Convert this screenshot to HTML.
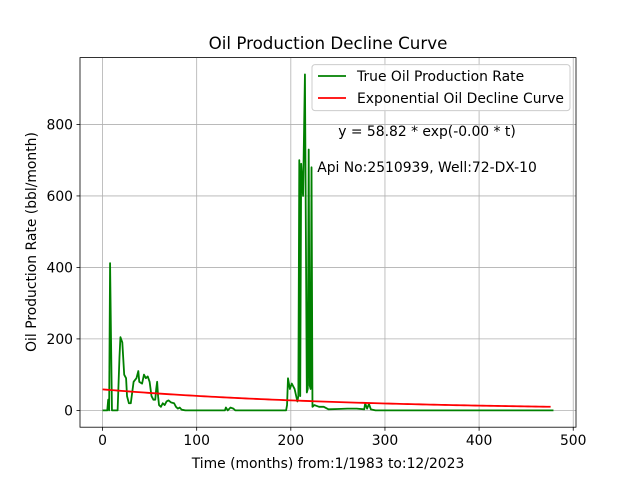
<!DOCTYPE html>
<html><head><meta charset="utf-8"><style>
body{margin:0;background:#fff}
svg text{font-family:"DejaVu Sans","Liberation Sans",sans-serif;fill:#000}
</style></head><body>
<svg width="640" height="480" viewBox="0 0 640 480">
<g id="grid"></g>
<g id="series"></g>
<rect x="80" y="57.6" width="496" height="369.6" fill="none" stroke="#000" stroke-width="0.8"/>
<g id="axes"></g>
<text x="328" y="49" font-size="16.7" text-anchor="middle">Oil Production Decline Curve</text>
<text x="328" y="468" font-size="13.9" text-anchor="middle">Time (months) from:1/1983 to:12/2023</text>
<text transform="translate(36,242) rotate(-90)" font-size="13.9" text-anchor="middle">Oil Production Rate (bbl/month)</text>
<text x="427" y="136" font-size="13.9" text-anchor="middle">y = 58.82 * exp(-0.00 * t)</text>
<text x="427" y="172" font-size="13.9" text-anchor="middle">Api No:2510939, Well:72-DX-10</text>
<g>
<rect x="312" y="64.6" width="258" height="46" rx="3" fill="#fff" fill-opacity="0.8" stroke="#ccc" stroke-width="1"/>
<line x1="318" y1="76" x2="346" y2="76" stroke="green" stroke-width="1.8"/>
<text x="357" y="81" font-size="13.9">True Oil Production Rate</text>
<line x1="318" y1="98" x2="346" y2="98" stroke="red" stroke-width="1.8"/>
<text x="357" y="103" font-size="13.9">Exponential Oil Decline Curve</text>
</g>
</svg>
<script>
const months=[0,5,6,7,8,9,10,16,18,19,21,23,25,26,28,30,33,36,38,39,42,44,46,48,50,52,54,56,57,58,59,60,62,64,66,68,70,73,76,78,80,82,84,88,130,131,133,136,139,141,195,196,197,199,201,204,207,208,209,210,211,213,215,217,218,219,220,221,222,223,225,230,235,240,250,260,270,278,279,281,283,285,290,479];
const rates=[0,0,30,0,412,200,0,0,150,205,190,100,90,40,20,20,80,90,110,80,75,100,90,95,80,40,30,30,60,80,40,15,10,20,15,25,28,22,20,10,5,8,2,0,0,8,0,8,5,0,0,15,90,60,75,60,25,40,700,40,690,600,940,50,60,730,70,60,680,10,15,10,10,3,4,5,5,3,20,5,18,3,0,0];
const fitA=58.82, fitK=0.0037, fitMonths=479;
const xTicks=[0,100,200,300,400,500];
const yTicks=[0,200,400,600,800];
const X0=80,X1=576,Y0=57.6,Y1=427.2,xmin=-23.95,xmax=502.95,ymin=-47,ymax=987;
const sx=v=>X0+(v-xmin)/(xmax-xmin)*(X1-X0);
const sy=v=>Y1-(v-ymin)/(ymax-ymin)*(Y1-Y0);
const NS="http://www.w3.org/2000/svg";
function mk(t,a,p){const e=document.createElementNS(NS,t);for(const k in a)e.setAttribute(k,a[k]);p.appendChild(e);return e;}
const grid=document.getElementById('grid'),axes=document.getElementById('axes'),ser=document.getElementById('series');
xTicks.forEach(t=>{const x=sx(t);
const g=mk('line',{x1:x,x2:x,y1:Y0,y2:Y1,stroke:'#b0b0b0','stroke-width':0.8},grid);


const k=mk('line',{x1:x,x2:x,y1:Y1,y2:Y1+3.5,stroke:'#000','stroke-width':0.8},axes);


const l=mk('text',{x:x,y:Y1+18,'font-size':13.9,'text-anchor':'middle'},axes);l.textContent=t;

});
yTicks.forEach(t=>{const y=sy(t);
const g=mk('line',{x1:X0,x2:X1,y1:y,y2:y,stroke:'#b0b0b0','stroke-width':0.8},grid);


const k=mk('line',{x1:X0-3.5,x2:X0,y1:y,y2:y,stroke:'#000','stroke-width':0.8},axes);


const l=mk('text',{x:X0-7,y:y+5,'font-size':13.9,'text-anchor':'end'},axes);l.textContent=t;

});
const tp=mk('polyline',{points:months.map((m,i)=>sx(m)+','+sy(rates[i])).join(' '),fill:'none',stroke:'green','stroke-width':1.8,'stroke-linejoin':'round'},ser);


const fp=[];for(let t=0;t<=fitMonths;t+=4)fp.push(sx(t)+','+sy(fitA*Math.exp(-fitK*t)));
const fl=mk('polyline',{points:fp.join(' '),fill:'none',stroke:'red','stroke-width':1.8},ser);


</script>
</body></html>
